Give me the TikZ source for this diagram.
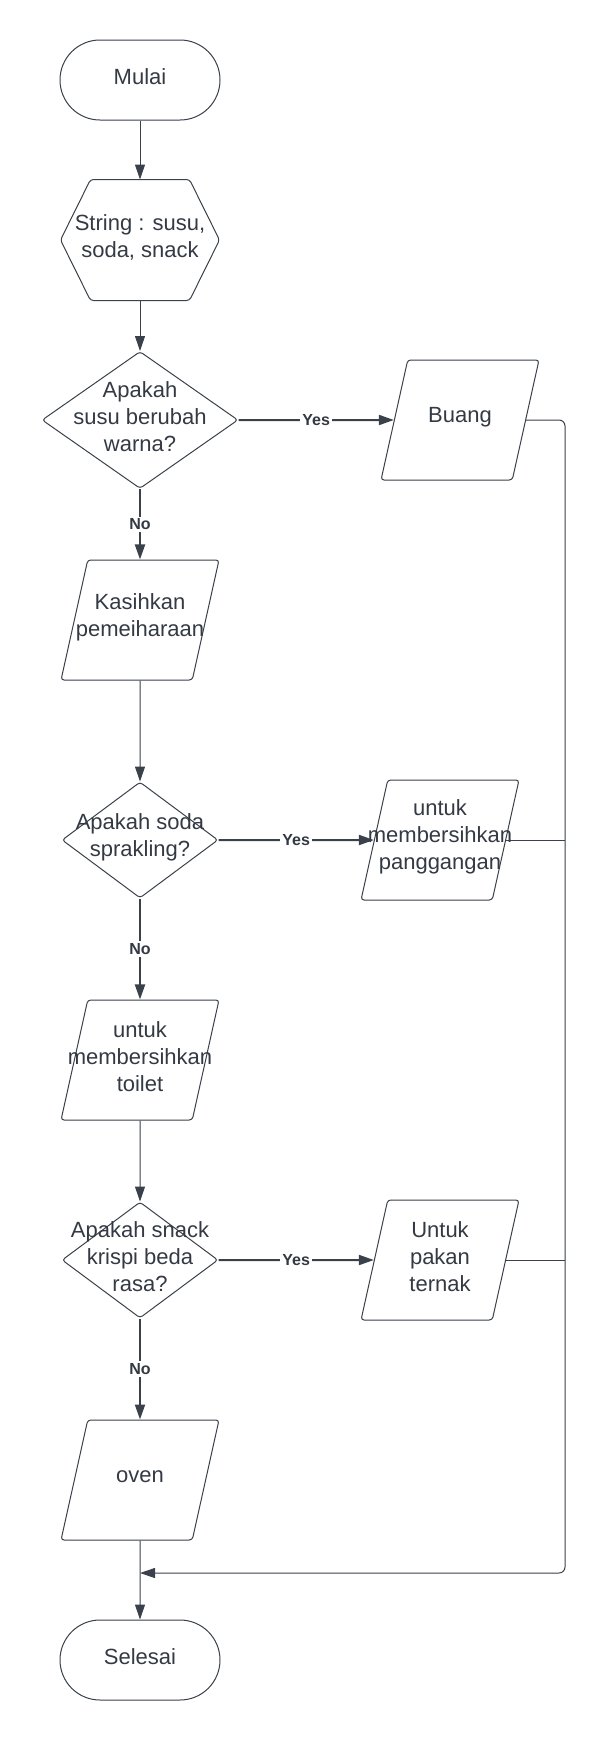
\documentclass[tikz,border=0pt]{standalone}
\usepackage{fontspec}
\setmainfont{Liberation Sans}
\usepackage{xcolor}
\usepackage{tikz}
\usetikzlibrary{shapes.geometric,arrows.meta,calc}
\definecolor{lc}{HTML}{3A414A}
\definecolor{tc}{HTML}{333A44}

\begin{document}
\begin{tikzpicture}[x=0.5pt,y=-0.5pt,color=lc,line width=0.5pt,
  txt/.style={align=center,text=tc,inner sep=0pt,yshift=1.5pt,font=\fontsize{11}{13.5}\selectfont},
  term/.style={draw,rounded corners=20pt,inner sep=0pt,minimum width=80pt,minimum height=40pt},
  io/.style={draw,trapezium,trapezium left angle=76.4,trapezium right angle=103.6,
    trapezium stretches=true,rounded corners=1.5pt,inner sep=0pt,
    minimum width=79pt,minimum height=60pt},
  dec/.style={draw,diamond,rounded corners=1.5pt,inner sep=0pt},
  yn/.style={fill=white,text=tc,inner sep=1pt,font=\fontsize{8}{9}\selectfont\bfseries},
  flow/.style={-{Triangle[length=7.5pt,width=5pt]}},
  yesno/.style={flow,line width=1pt}]

\useasboundingbox (0,0) rectangle (605,1740);

\pgfmathsetmacro{\XC}{140}
\pgfmathsetmacro{\XR}{565}

% start and input
\node (mulai) [term,label={[txt]center:Mulai}] at (\XC,80) {};
\node (hex) [minimum width=79pt,minimum height=60pt,inner sep=0pt,
  label={[txt]center:{String : susu,\\soda, snack}}] at (\XC,240) {};
\draw[rounded corners=1.5pt] (hex.west) -- ([xshift=15pt]hex.north west)
  -- ([xshift=-15pt]hex.north east) -- (hex.east)
  -- ([xshift=-15pt]hex.south east) -- ([xshift=15pt]hex.south west) -- cycle;

% first question: susu
\node (d1) [dec,minimum width=98pt,minimum height=68.5pt,
  label={[txt]center:{Apakah\\susu berubah\\warna?}}] at (\XC,420) {};
\node (buang) [io,label={[txt]center:Buang}] at (460,420) {\phantom{x}};
\node (kas) [io,label={[txt]center:{Kasihkan\\pemeiharaan}}] at (\XC,620) {\phantom{x}};

% second question: soda
\node (d2) [dec,minimum width=78pt,minimum height=58pt,
  label={[txt]center:{Apakah soda\\sprakling?}}] at (\XC,840) {};
\node (pang) [io,label={[txt]center:{untuk\\membersihkan\\panggangan}}] at (440,840) {\phantom{x}};
\node (toilet) [io,label={[txt]center:{untuk\\membersihkan\\toilet}}] at (\XC,1060) {\phantom{x}};

% third question: snack
\node (d3) [dec,minimum width=78pt,minimum height=58pt,
  label={[txt]center:{Apakah snack\\krispi beda\\rasa?}}] at (\XC,1260) {};
\node (pakan) [io,label={[txt]center:{Untuk\\pakan\\ternak}}] at (440,1260) {\phantom{x}};
\node (oven) [io,label={[txt]center:oven}] at (\XC,1480) {\phantom{x}};

% end
\node (selesai) [term,label={[txt]center:Selesai}] at (\XC,1660) {};

% main flow
\draw[flow] (mulai) -- (hex);
\draw[flow] (hex) -- (d1);
\draw[yesno] (d1) -- node[yn] {Yes} (buang);
\draw[yesno] (d1) -- node[yn] {No} (kas);
\draw[flow] (kas) -- (d2);
\draw[yesno] (d2) -- node[yn] {Yes} (pang);
\draw[yesno] (d2) -- node[yn] {No} (toilet);
\draw[flow] (toilet) -- (d3);
\draw[yesno] (d3) -- node[yn] {Yes} (pakan);
\draw[yesno] (d3) -- node[yn] {No} (oven);
\draw[flow] (oven) -- (selesai);

% return line on the right
\coordinate (r1) at (\XR,420);
\coordinate (r2) at (\XR,1573);
\coordinate (join) at (\XC,1573);
\draw[flow,rounded corners=3pt] (buang.east) -- (r1) -- (r2) -- (join);
\draw (pang.east) -- (pang.east -| r1);
\draw (pakan.east) -- (pakan.east -| r1);
\end{tikzpicture}
\end{document}
